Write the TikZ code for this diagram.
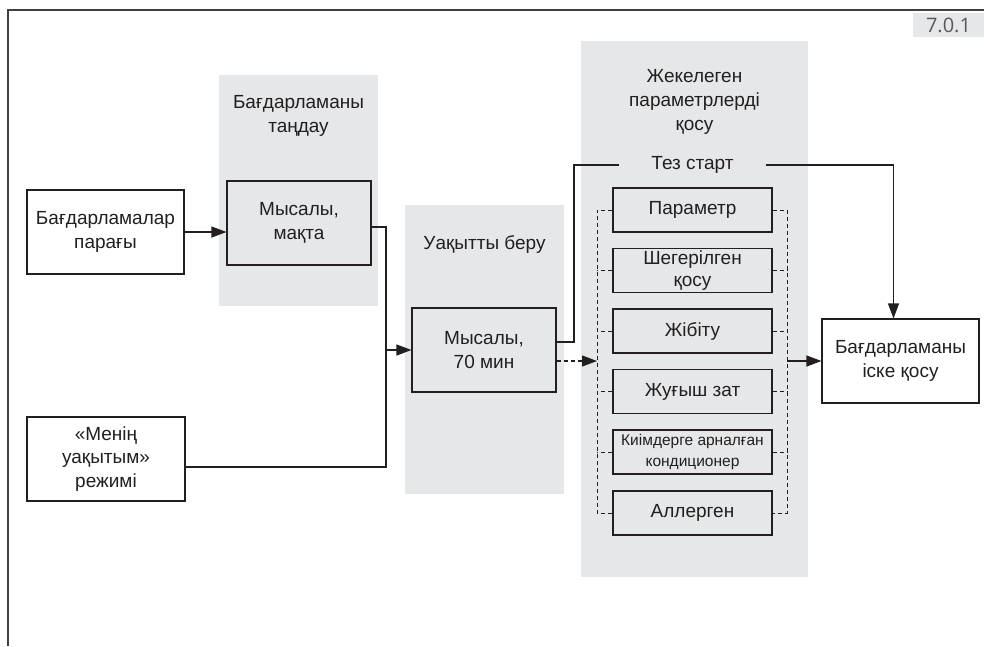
\documentclass[tikz,border=0pt]{standalone}
\usepackage{fontspec}
\setmainfont{Liberation Sans}
\newfontfamily\numfont{Open Sans}
\usetikzlibrary{arrows.meta,calc,positioning}
\definecolor{panel}{HTML}{E6E7E8}
\definecolor{ink}{HTML}{231F20}
\definecolor{rim}{HTML}{404040}
\tikzset{
  >={Triangle[length=15pt,width=11pt]},
  every picture/.style={line width=1.1pt},
  box/.style={draw=ink, minimum width=157pt, minimum height=84pt, inner sep=0pt, align=center, text=ink, font=\fontsize{19}{23.5}\selectfont},
  optbox/.style={box, minimum width=159pt, minimum height=44pt},
  title/.style={align=center, text=ink, font=\fontsize{19}{24}\selectfont},
  arrow/.style={->, draw=ink},
  dashedarrow/.style={->, draw=ink, dash pattern=on 4pt off 3pt},
  bus/.style={draw=ink, line width=0.8pt, dash pattern=on 4pt off 3pt}
}
\begin{document}
\begin{tikzpicture}[x=1pt,y=-1pt]
\useasboundingbox (0,0) rectangle (984,646);

% 테두리
\draw[rim, line width=1.6pt] (8,646) -- (8,10) -- (984,10);
\node[fill=panel, minimum width=71pt, minimum height=24pt, inner sep=0pt, text=ink!75, font=\numfont\fontsize{20}{20}\selectfont] (num) at (948.5,25) {7.0.1};

% 배경 패널
\fill[panel] (219,75) rectangle (378,306);
\fill[panel] (405,205) rectangle (564,494);
\fill[panel] (581,41) rectangle (808,577);

% 패널 제목
\node[title] (seltitle) at (298.5,116) {Бағдарламаны\\таңдау};
\node[title] (timetitle) at (484.5,244) {Уақытты беру};
\node[title] (opttitle) at (694.5,102) {Жекелеген\\параметрлерді\\қосу};
\node[title, fill=panel, minimum width=145pt, minimum height=38pt, inner sep=0pt] (quick) at (692.5,165) {Тез старт};

% 블록
\node[box, fill=white] (list) at (105.5,232) {Бағдарламалар\\парағы};
\node[box, fill=white, minimum width=158pt] (my) at (106,459) {«Менің\\уақытым»\\режимі};
\node[box, minimum width=144pt] (mak) at (299,223) {Мысалы,\\мақта};
\node[box, minimum width=144pt] (m70) at (484,350) {Мысалы,\\70 мин};
\node[box, fill=white] (launch) at (900.5,361) {Бағдарламаны\\іске қосу};

% 개별 매개변수
\node[optbox] (p1) at (692.5,210) {Параметр};
\node[optbox, font=\fontsize{19}{22.5}\selectfont] (p2) at (692.5,270.5) {Шегерілген\\қосу};
\node[optbox] (p3) at (692.5,331) {Жібіту};
\node[optbox] (p4) at (692.5,391.5) {Жуғыш зат};
\node[optbox, font=\fontsize{15.5}{20.5}\selectfont] (p5) at (692.5,452) {Киімдерге арналған\\кондиционер};
\node[optbox] (p6) at (692.5,513) {Аллерген};

% 연결선
\coordinate (join) at (386,350);
\coordinate (bend) at (574,165);
\coordinate (busl) at (597,361);
\coordinate (busr) at (787,361);
\draw[arrow] (list.east) -- (list.east -| mak.west);
\draw[ink] ([yshift=-4pt]mak.east) -| (join);
\draw[ink] ([yshift=-8pt]my.east) -| (join);
\draw[arrow] (join) -- (m70.west);
\draw[ink] ([yshift=8pt]m70.east) -| (bend) -- (quick.west);
\draw[arrow] (quick.east) -| ([xshift=-7pt]launch.north);
\draw[dashedarrow] ([yshift=-11pt]m70.east) -- (busl);
\draw[arrow] (busr) -- (busr -| launch.west);

% 점선 버스
\draw[bus] (p1.west) -- (p1.west -| busl) -- (p6.west -| busl) -- (p6.west);
\draw[bus] (p1.east) -- (p1.east -| busr) -- (p6.east -| busr) -- (p6.east);
\draw[bus] (p2.west) -- (p2.west -| busl);
\draw[bus] (p3.west) -- (p3.west -| busl);
\draw[bus] (p4.west) -- (p4.west -| busl);
\draw[bus] (p5.west) -- (p5.west -| busl);
\draw[bus] (p2.east) -- (p2.east -| busr);
\draw[bus] (p3.east) -- (p3.east -| busr);
\draw[bus] (p4.east) -- (p4.east -| busr);
\draw[bus] (p5.east) -- (p5.east -| busr);

\end{tikzpicture}
\end{document}
